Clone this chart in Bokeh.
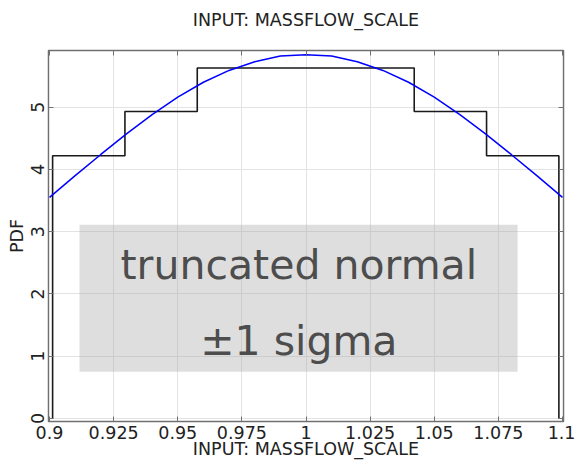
from bokeh.plotting import figure
from bokeh.models import Range1d, LinearAxis, FixedTicker, BoxAnnotation, Label
from bokeh.embed import file_html
from bokeh.resources import INLINE

# ---- data ----
bin_edges = [0.9012, 0.9294, 0.9576, 0.9858, 1.0140, 1.0422, 1.0704, 1.0986]
bin_heights = [4.22, 4.93, 5.63, 5.63, 5.63, 4.93, 4.22]
curve_x = [0.90, 0.91, 0.92, 0.93, 0.94, 0.95, 0.96, 0.97, 0.98, 0.99, 1.00,
           1.01, 1.02, 1.03, 1.04, 1.05, 1.06, 1.07, 1.08, 1.09, 1.10]
curve_y = [3.55, 3.90, 4.24, 4.57, 4.88, 5.16, 5.40, 5.59, 5.73, 5.82, 5.84,
           5.82, 5.73, 5.59, 5.40, 5.16, 4.88, 4.57, 4.24, 3.90, 3.55]
x_ticks = [0.9, 0.925, 0.95, 0.975, 1.0, 1.025, 1.05, 1.075, 1.1]
x_tick_labels = ["0.9", "0.925", "0.95", "0.975", "1", "1.025", "1.05", "1.075", "1.1"]
y_ticks = [0, 1, 2, 3, 4, 5]
title_text = "INPUT: MASSFLOW_SCALE"
x_label = "INPUT: MASSFLOW_SCALE"
y_label = "PDF"
note_lines = ["truncated normal", "\u00b11 sigma"]

FONT = "DejaVu Sans"
AX = "#707070"

p = figure(width=575, height=462, output_backend="svg", toolbar_location=None,
           x_range=Range1d(0.8996, 1.1004), y_range=Range1d(-0.05, 5.91),
           min_border_left=48, min_border_right=12,
           min_border_top=50, min_border_bottom=41)
p.background_fill_color = "white"
p.border_fill_color = "white"
p.outline_line_color = AX
p.outline_line_width = 1.5

# main axes
xa = p.xaxis[0]
ya = p.yaxis[0]
xa.ticker = FixedTicker(ticks=x_ticks)
xa.major_label_overrides = {t: l for t, l in zip(x_ticks, x_tick_labels)}
ya.ticker = FixedTicker(ticks=y_ticks)
ya.major_label_orientation = "vertical"
xa.axis_label = x_label
ya.axis_label = y_label
for a in (xa, ya):
    a.axis_line_color = AX
    a.major_tick_line_color = AX
    a.major_tick_in = 5
    a.major_tick_out = 0
    a.minor_tick_line_color = None
    a.major_label_text_font = FONT
    a.major_label_text_font_size = "17.5px"
    a.major_label_text_color = "#222222"
    a.axis_label_text_font = FONT
    a.axis_label_text_font_size = "17.5px"
    a.axis_label_text_font_style = "normal"
    a.axis_label_text_color = "#222222"
xa.major_label_standoff = 4
xa.axis_label_standoff = -3
ya.major_label_standoff = 4
ya.axis_label_standoff = 2

# mirrored top axis (ticks only); its label carries the chart title
top = LinearAxis(ticker=FixedTicker(ticks=x_ticks), major_label_text_font_size="0px",
                 major_label_text_color=None,
                 axis_line_color=AX, major_tick_line_color=AX, major_tick_in=5,
                 major_tick_out=0, minor_tick_line_color=None, major_label_standoff=0,
                 axis_label=title_text, axis_label_standoff=21,
                 axis_label_text_font=FONT, axis_label_text_font_size="17.5px",
                 axis_label_text_font_style="normal", axis_label_text_color="#222222")
right = LinearAxis(ticker=FixedTicker(ticks=y_ticks), major_label_text_font_size="0px",
                   major_label_text_color=None,
                   axis_line_color=AX, major_tick_line_color=AX, major_tick_in=5,
                   major_tick_out=0, minor_tick_line_color=None, major_label_standoff=0)
p.add_layout(top, "above")
p.add_layout(right, "right")

p.xgrid.ticker = FixedTicker(ticks=x_ticks)
p.ygrid.ticker = FixedTicker(ticks=y_ticks)
p.grid.grid_line_color = "#e3e3e3"
p.grid.grid_line_width = 1

# histogram outline built from edges/heights
hx, hy = [bin_edges[0]], [0.0]
for i, h in enumerate(bin_heights):
    hx += [bin_edges[i], bin_edges[i + 1]]
    hy += [h, h]
hx.append(bin_edges[-1])
hy.append(0.0)
p.line(hx, hy, line_color="#1a1a1a", line_width=1.6)

# fitted pdf
p.line(curve_x, curve_y, line_color="#0000ff", line_width=1.5)

# annotation box
box = BoxAnnotation(left=0.9117, right=1.0825, bottom=0.75, top=3.11,
                    fill_color="#a0a0a0", fill_alpha=0.35, line_color=None)
p.add_layout(box)
for txt, yv in zip(note_lines, [2.47, 1.25]):
    p.add_layout(Label(x=0.9972, y=yv, text=txt, text_align="center",
                       text_baseline="alphabetic", text_font=FONT,
                       text_font_size="41px", text_color="#4d4d4d"))

open("out.html", "w").write(file_html(p, INLINE))
